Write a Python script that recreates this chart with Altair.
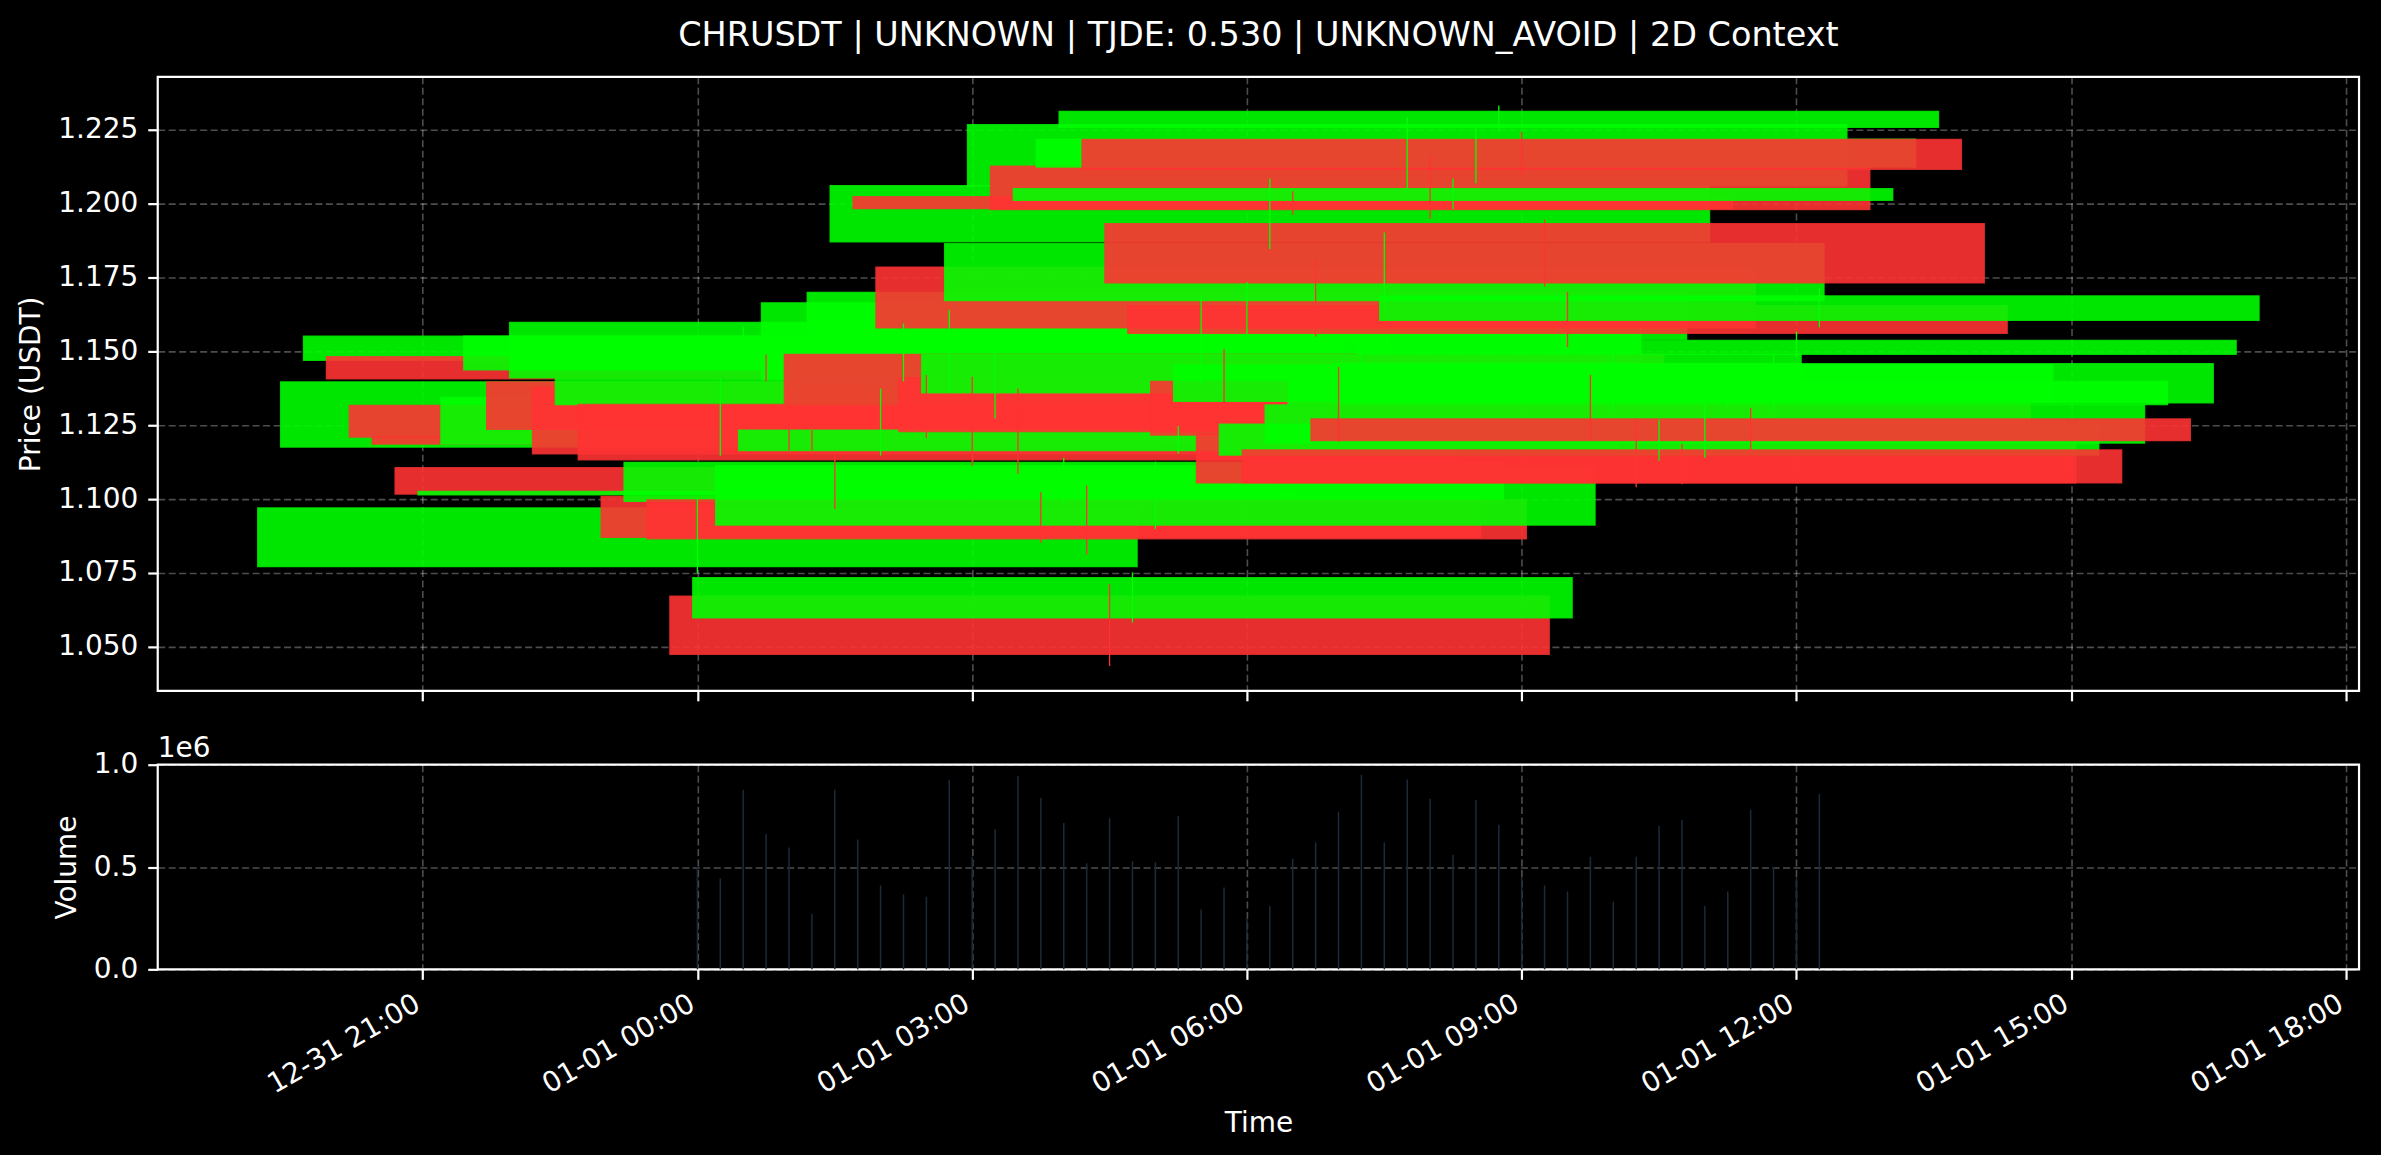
import altair as alt
import pandas as pd

# ---- data (15-minute candles) ----
times = [
    "2025-01-01 00:00", "2025-01-01 00:15", "2025-01-01 00:30", "2025-01-01 00:45",
    "2025-01-01 01:00", "2025-01-01 01:15", "2025-01-01 01:30", "2025-01-01 01:45",
    "2025-01-01 02:00", "2025-01-01 02:15", "2025-01-01 02:30", "2025-01-01 02:45",
    "2025-01-01 03:00", "2025-01-01 03:15", "2025-01-01 03:30", "2025-01-01 03:45",
    "2025-01-01 04:00", "2025-01-01 04:15", "2025-01-01 04:30", "2025-01-01 04:45",
    "2025-01-01 05:00", "2025-01-01 05:15", "2025-01-01 05:30", "2025-01-01 05:45",
    "2025-01-01 06:00", "2025-01-01 06:15", "2025-01-01 06:30", "2025-01-01 06:45",
    "2025-01-01 07:00", "2025-01-01 07:15", "2025-01-01 07:30", "2025-01-01 07:45",
    "2025-01-01 08:00", "2025-01-01 08:15", "2025-01-01 08:30", "2025-01-01 08:45",
    "2025-01-01 09:00", "2025-01-01 09:15", "2025-01-01 09:30", "2025-01-01 09:45",
    "2025-01-01 10:00", "2025-01-01 10:15", "2025-01-01 10:30", "2025-01-01 10:45",
    "2025-01-01 11:00", "2025-01-01 11:15", "2025-01-01 11:30", "2025-01-01 11:45",
    "2025-01-01 12:00", "2025-01-01 12:15",
]
opens = [
    1.0772, 1.1176, 1.1470, 1.1482, 1.1317, 1.1210, 1.1106, 1.1015, 1.1186, 1.1438,
    1.1396, 1.1411, 1.1378, 1.1320, 1.1320, 1.1009, 1.0993, 1.0997, 1.0671, 1.0598,
    1.0912, 1.1164, 1.1405, 1.1489, 1.1541, 1.1871, 1.2023, 1.1785, 1.1411, 1.1360,
    1.1672, 1.2060, 1.2126, 1.2011, 1.2124, 1.2258, 1.2217, 1.1932, 1.1654, 1.1398,
    1.1331, 1.1220, 1.1149, 1.1166, 1.1190, 1.1320, 1.1271, 1.1326, 1.1490, 1.1605,
]
closes = [
    1.0970, 1.1396, 1.1551, 1.1407, 1.1210, 1.1186, 1.1017, 1.1026, 1.1344, 1.1551,
    1.1236, 1.1598, 1.1153, 1.1407, 1.1133, 1.0871, 1.1124, 1.0866, 1.0475, 1.0734,
    1.1113, 1.1233, 1.1664, 1.1323, 1.1699, 1.2060, 1.1983, 1.1580, 1.1229, 1.1489,
    1.1864, 1.2267, 1.1980, 1.2050, 1.2218, 1.2312, 1.2116, 1.1732, 1.1561, 1.1217,
    1.1454, 1.1055, 1.1253, 1.1055, 1.1318, 1.1398, 1.1198, 1.1458, 1.1537, 1.1687,
]
highs = [
    1.1005, 1.1407, 1.1585, 1.1489, 1.1367, 1.1233, 1.1153, 1.1040, 1.1374, 1.1594,
    1.1420, 1.1641, 1.1414, 1.1508, 1.1374, 1.1023, 1.1140, 1.1046, 1.0712, 1.0752,
    1.1126, 1.1247, 1.1688, 1.1508, 1.1735, 1.2085, 1.2042, 1.1815, 1.1447, 1.1508,
    1.1902, 1.2292, 1.2162, 1.2085, 1.2269, 1.2332, 1.2243, 1.1946, 1.1701, 1.1420,
    1.1494, 1.1273, 1.1269, 1.1187, 1.1320, 1.1410, 1.1307, 1.1487, 1.1567, 1.1715,
]
lows = [
    1.0749, 1.1147, 1.1440, 1.1398, 1.1164, 1.1164, 1.0966, 1.1000, 1.1147, 1.1398,
    1.1206, 1.1360, 1.1113, 1.1273, 1.1086, 1.0852, 1.0979, 1.0812, 1.0435, 1.0582,
    1.0899, 1.1153, 1.1385, 1.1310, 1.1530, 1.1846, 1.1962, 1.1550, 1.1193, 1.1340,
    1.1641, 1.2049, 1.1949, 1.1982, 1.2069, 1.2243, 1.2095, 1.1719, 1.1514, 1.1200,
    1.1300, 1.1040, 1.1130, 1.1050, 1.1140, 1.1310, 1.1166, 1.1300, 1.1480, 1.1581,
]
volumes = [
    500000, 444000, 877000, 661000, 595000, 272000, 877000, 634000, 410000, 366000,
    354000, 926000, 550000, 685000, 946000, 838000, 715000, 518000, 738000, 528000,
    523000, 748000, 292000, 400000, 250000, 310000, 540000, 620000, 770000, 950000,
    620000, 928000, 834000, 560000, 828000, 707000, 450000, 410000, 380000, 550000,
    330000, 550000, 700000, 730000, 310000, 380000, 780000, 500000, 450000, 857000,
]
price_ticks = [1.050, 1.075, 1.100, 1.125, 1.150, 1.175, 1.200, 1.225]
volume_ticks = [0, 500000, 1000000]

BODY_HALF_WIDTH_HOURS = 4.8  # bodies drawn 0.4 day wide, centred on the candle time

df = pd.DataFrame({
    "t": pd.to_datetime(times),
    "open": opens, "close": closes, "high": highs, "low": lows, "vol": volumes,
})
df["t0"] = df["t"] - pd.Timedelta(hours=BODY_HALF_WIDTH_HOURS)
df["t1"] = df["t"] + pd.Timedelta(hours=BODY_HALF_WIDTH_HOURS)
df["dir"] = ["up" if c >= o else "down" for o, c in zip(opens, closes)]

FONT = "DejaVu Sans"
W, H_MAIN, H_VOL = 2205, 615, 205
FS = 28

x_ticks = [alt.DateTime(year=2024, month=12, date=31, hours=21)] + [
    alt.DateTime(year=2025, month=1, date=1, hours=h) for h in range(0, 19, 3)
]
x_scale = alt.Scale(domain=[
    alt.DateTime(year=2024, month=12, date=31, hours=18, minutes=6, seconds=27),
    alt.DateTime(year=2025, month=1, date=1, hours=18, minutes=8, seconds=33),
])
y_scale = alt.Scale(domain=[1.0351, 1.2429], nice=False, zero=False)
color_scale = alt.Scale(domain=["up", "down"], range=["#00ff00", "#ff3333"])

main_x_axis = alt.Axis(values=x_ticks, labels=False, title=None, ticks=True, grid=True)
price_axis = alt.Axis(values=price_ticks, format=".3f", title="Price (USDT)",
                      titleX=-126, titleY=H_MAIN / 2, titleAngle=270,
                      titleAlign="center", titleBaseline="middle")

bodies = alt.Chart(df).mark_rect(opacity=0.9, strokeWidth=1.5, strokeOpacity=0.9).encode(
    x=alt.X("t0:T", scale=x_scale, axis=main_x_axis),
    x2="t1:T",
    y=alt.Y("open:Q", scale=y_scale, axis=price_axis),
    y2="close:Q",
    color=alt.Color("dir:N", scale=color_scale, legend=None),
    stroke=alt.Stroke("dir:N", scale=color_scale, legend=None),
)
wicks = alt.Chart(df).mark_rule(strokeWidth=1.3).encode(
    x=alt.X("t:T", scale=x_scale, axis=main_x_axis),
    y=alt.Y("low:Q", scale=y_scale, axis=price_axis),
    y2="high:Q",
    color=alt.Color("dir:N", scale=color_scale, legend=None),
)
main = alt.layer(bodies, wicks).properties(
    width=W, height=H_MAIN,
    title=alt.TitleParams(
        "CHRUSDT | UNKNOWN | TJDE: 0.530 | UNKNOWN_AVOID | 2D Context",
        anchor="middle", frame="group", fontSize=33.5, font=FONT,
        fontWeight="normal", color="white", offset=23,
    ),
)

vol = alt.Chart(df).mark_rule(strokeWidth=1.5, color="#1b2b3b").encode(
    x=alt.X("t:T", scale=x_scale, axis=alt.Axis(
        values=x_ticks, format="%m-%d %H:%M", labelAngle=-30, labelAlign="right",
        labelBaseline="top", labelOffset=-12,
        title="Time", titleY=154, titleBaseline="middle")),
    y=alt.Y("vol:Q", scale=alt.Scale(domain=[0, 1000000], nice=False), axis=alt.Axis(
        values=volume_ticks, labelExpr="format(datum.value / 1000000, '.1f')",
        title="Volume", titleX=-90, titleY=H_VOL / 2, titleAngle=270,
        titleAlign="center", titleBaseline="middle")),
    y2=alt.datum(0),
).properties(
    width=W, height=H_VOL,
    title=alt.TitleParams("1e6", anchor="start", frame="group", fontSize=FS, font=FONT,
                          fontWeight="normal", color="white", offset=-12),
)

chart = alt.vconcat(main, vol, spacing=29).configure(
    background="black",
    padding={"left": 16, "top": 17, "right": 20, "bottom": 22},
).configure_view(
    stroke="white", strokeWidth=2.2,
).configure_axis(
    domain=False, tickColor="white", tickWidth=2.2, tickSize=10,
    labelColor="white", labelFont=FONT, labelFontSize=FS, labelPadding=10,
    titleColor="white", titleFont=FONT, titleFontSize=FS, titleFontWeight="normal",
    gridColor="white", gridOpacity=0.3, gridDash=[7, 3.5], gridWidth=1.6, zindex=1,
)

chart.save("out.html", embed_options={"renderer": "svg", "actions": False})
